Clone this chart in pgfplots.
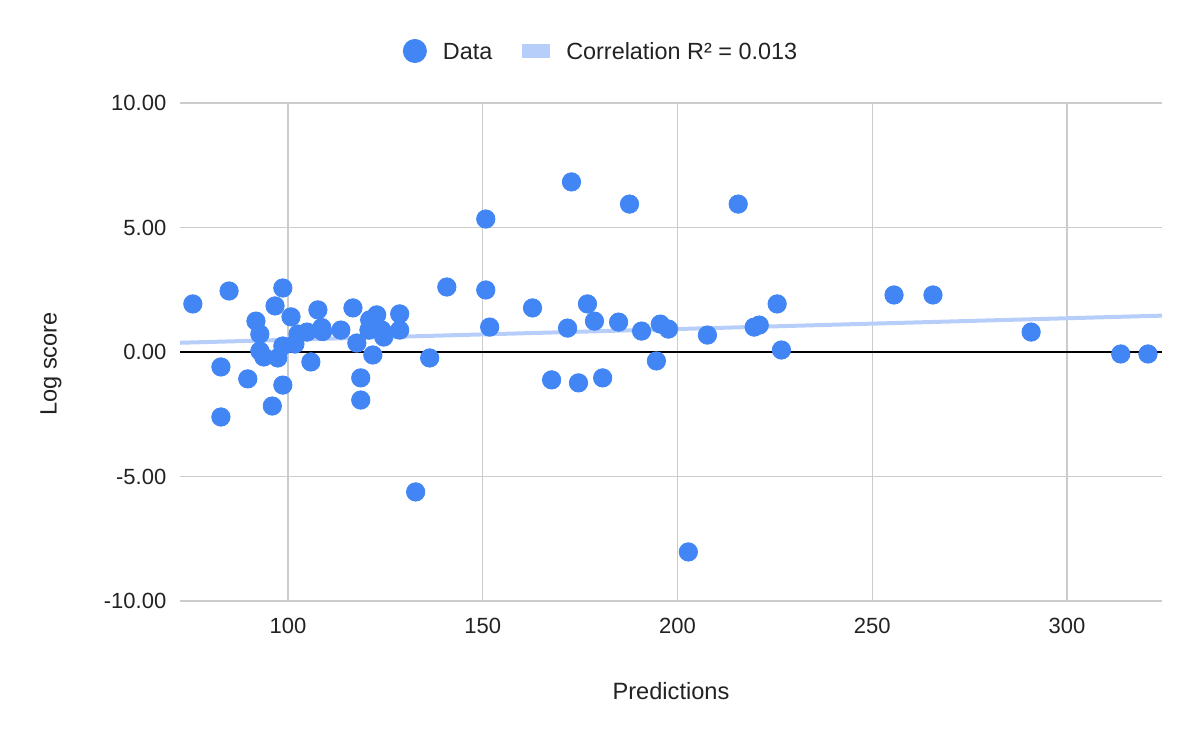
\documentclass[border=0pt]{standalone}
\usepackage{fontspec}
\setmainfont{Liberation Sans}
\usepackage{pgfplots}
\usepackage{pgfplotstable}
\pgfplotsset{compat=1.18}
\definecolor{gblue}{HTML}{4285F4}
\definecolor{glight}{HTML}{B7CEFA}
\definecolor{ggrid}{HTML}{CCCCCC}
\definecolor{gtext}{HTML}{222222}
\pgfplotstableread{
x y
75.6 1.93
84.9 2.45
98.7 2.57
96.7 1.85
91.8 1.24
100.8 1.41
107.7 1.69
92.8 0.72
102.6 0.72
104.9 0.80
108.7 0.98
108.9 0.82
98.7 0.24
101.8 0.32
92.8 0.04
93.8 -0.20
97.4 -0.24
82.8 -0.60
105.9 -0.40
89.7 -1.08
98.7 -1.33
96.0 -2.17
82.8 -2.61
113.6 0.88
116.7 1.77
117.7 0.36
118.7 -1.04
118.7 -1.93
120.8 0.88
121.8 -0.12
121.0 1.29
122.8 1.49
124.1 0.88
124.6 0.60
128.7 1.53
128.7 0.88
132.8 -5.62
136.4 -0.24
140.8 2.61
150.8 5.34
150.8 2.49
151.8 1.00
162.8 1.77
167.7 -1.12
171.8 0.96
172.8 6.83
174.6 -1.24
176.9 1.93
178.7 1.24
180.8 -1.04
184.9 1.20
187.7 5.94
190.8 0.84
194.6 -0.36
195.6 1.12
197.7 0.92
202.8 -8.03
207.7 0.68
215.6 5.94
219.7 1.00
221.0 1.08
225.6 1.93
226.7 0.08
255.6 2.29
265.6 2.29
290.8 0.80
313.8 -0.08
320.8 -0.08
}\datatable
\begin{document}
\fontsize{11}{13}\selectfont
\begin{tikzpicture}
\useasboundingbox (0,0) rectangle (600pt,371pt);
\begin{axis}[
  at={(90pt,70.5pt)}, anchor=south west,
  scale only axis, width=491pt, height=249pt,
  xmin=72.3, xmax=324.4, ymin=-10, ymax=10,
  xtick={100,150,200,250,300},
  xticklabels={100,150,200,250,300},
  ytick={-10,-5,0,5,10},
  yticklabels={-10.00,-5.00,0.00,5.00,10.00},
  axis line style={draw=none},
  major tick length=0pt,
  grid=major,
  grid style={ggrid, line width=0.6pt},
  tick label style={font=\fontsize{11}{13}\selectfont, text=gtext},
  yticklabel style={xshift=-3pt},
  xticklabel style={yshift=-4.8pt},
  xlabel={Predictions}, ylabel={Log score},
  xlabel style={at={(axis description cs:0.5,-0.1807)}, anchor=center, font=\fontsize{11.8}{14}\selectfont, text=gtext},
  ylabel style={at={(axis description cs:-0.1314,0.476)}, anchor=center, font=\fontsize{11.8}{14}\selectfont, text=gtext},
  legend style={at={(axis description cs:0.4277,1.1044)}, anchor=center, draw=none, fill=none,
    font=\fontsize{11.7}{14}\selectfont, text=gtext,
    nodes={inner sep=0pt, anchor=base west},
    /tikz/every odd column/.append style={column sep=8pt},
    /tikz/every even column/.append style={column sep=15pt}},
  legend columns=-1,
  clip=false,
]
\addplot[black, line width=0.6pt, forget plot] coordinates {(72.3,0) (324.4,0)};
\addplot[only marks, mark=*, mark size=4.6pt, color=gblue, mark options={draw=gblue, fill=gblue},
  legend image code/.code={\fill[gblue] (5.8pt,4.2pt) circle (5.8pt);}] table[x=x,y=y] {\datatable};
\addlegendentry{Data}
\addplot[glight, line width=2pt,
  legend image code/.code={\fill[glight] (0pt,1.8pt) rectangle (12pt,6.6pt);}]
  coordinates {(72.3,0.37) (324.4,1.46)};
\addlegendentry{Correlation R² = 0.013}
\end{axis}
\end{tikzpicture}
\end{document}
